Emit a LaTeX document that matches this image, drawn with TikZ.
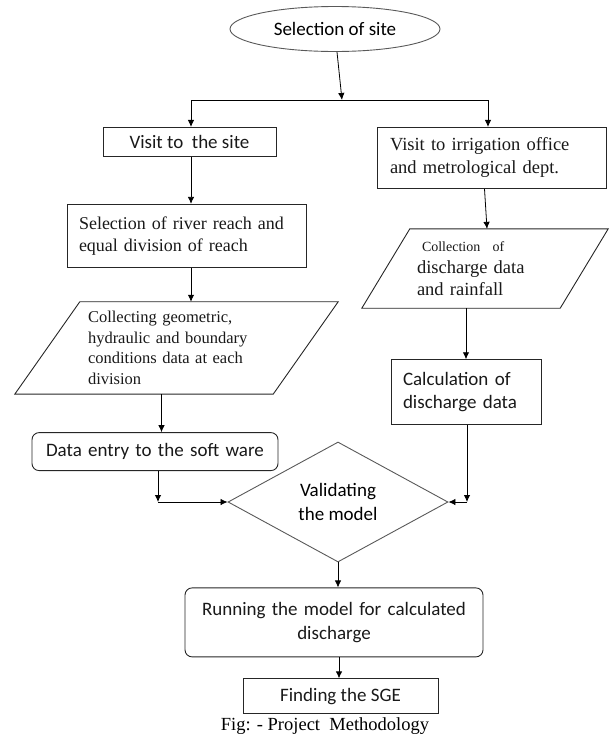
\documentclass[tikz,border=0pt]{standalone}
\usepackage{fontspec}
\setmainfont{Liberation Serif}
\setsansfont{Carlito}
\usetikzlibrary{shapes.geometric, arrows.meta, positioning, calc}
\tikzset{
    % Base Block Style
    block/.style={
        rectangle,
        draw=black!85,
        line width=0.9pt,
        inner sep=0pt,
        text=black!90
    },
    % Specific Role Styles
    stepSans/.style={block, font=\sffamily\fontsize{19}{23.5}\selectfont, align=center},
    stepSerif/.style={block, font=\rmfamily\fontsize{18.5}{23}\selectfont, align=left},
    stepRound/.style={stepSans, rounded corners=2.5mm},
    stepIO/.style={rectangle, inner sep=0pt, text=black!90, align=left, font=\rmfamily\fontsize{16.5}{20.5}\selectfont},
    ioLine/.style={draw=black!85, line width=0.9pt},
    startSite/.style={ellipse, draw=black!65, line width=0.9pt, inner sep=0pt, font=\sffamily\fontsize{19}{23}\selectfont},
    decision/.style={diamond, draw=black!65, line width=0.9pt, inner sep=0pt, align=center, font=\sffamily\fontsize{19}{23.5}\selectfont},
    % Arrow & Label Styles
    arrow/.style={-{Latex[length=7pt,width=6.5pt]}, line width=0.8pt, draw=black},
    figCaption/.style={font=\rmfamily\fontsize{18.5}{22}\selectfont, inner sep=0pt}
}

\begin{document}
\begin{tikzpicture}[x=1pt, y=-1pt, node distance=40pt]
    \useasboundingbox (0,0) rectangle (612,734);

    % --- START ---
    \node (site) [startSite, minimum width=210pt, minimum height=45pt] at (335,29) {Selection of site};

    % --- LEFT COLUMN (Field Work) ---

    % 1. Site visit
    \node (visit) [stepSans, minimum width=173pt, minimum height=29pt, below=75pt of site, xshift=-145.5pt] {Visit to\ \ the site};

    % 2. River reach
    \node (reach) [stepSerif, font=\rmfamily\fontsize{18}{22}\selectfont, text width=215pt, inner xsep=12pt, minimum height=63pt, below=47pt of visit, xshift=-3pt] {
        Selection of river reach and\\
        equal division of reach
    };

    % 3. Field data (parallelogram drawn below)
    \node (geo) [stepIO, text width=177pt, inner xsep=8pt, minimum height=92pt, below=34pt of reach, xshift=-10pt] {
        Collecting geometric,\\
        hydraulic and boundary\\
        conditions data at each\\
        division
    };

    % 4. Data entry
    \node (entry) [stepRound, align=left, text width=230pt, inner xsep=8pt, minimum height=38pt, below=38pt of geo, xshift=-21.5pt] {\hspace*{6pt}Data entry to the soft ware};

    % --- RIGHT COLUMN (Office Data) ---

    % 5. Office visit
    \node (office) [stepSerif, text width=203pt, inner xsep=13pt, minimum height=61pt, below=75pt of site, xshift=156.5pt] {
        Visit to irrigation office\\
        and metrological dept.
    };

    % 6. Discharge records (parallelogram drawn below)
    \node (collect) [stepIO, font=\rmfamily\fontsize{18.5}{22}\selectfont, text width=136pt, inner xsep=7pt, minimum height=79pt, below=40pt of office, xshift=-6.5pt] {
        {\fontsize{14}{17}\selectfont\hspace*{5pt}Collection\ \ of}\\
        discharge data\\
        and rainfall
    };

    % 7. Calculation
    \node (calc) [stepSans, align=left, text width=126pt, inner xsep=12pt, minimum height=65pt, below=51pt of collect, xshift=-19pt] {
        Calculation of\\
        discharge data
    };

    % --- BOTTOM (Model) ---
    \node (valid) [decision, minimum width=220pt, minimum height=120pt] at (338,502) {Validating\\the model};

    \node (run) [stepRound, text width=280pt, inner xsep=9pt, minimum height=69pt, below=25pt of valid, xshift=-4pt] {
        Running the model for calculated\\
        discharge
    };

    \node (sge) [stepSans, minimum width=195pt, minimum height=35pt, below=21pt of run, xshift=6.5pt] {Finding the SGE};

    \node (caption) [figCaption, below=3pt of sge, xshift=-15.5pt] {Fig: - Project\ \ Methodology};

    % --- Parallelograms ---
    \draw [ioLine] (geo.north west) -- ([xshift=65pt]geo.north east) -- (geo.south east) -- ([xshift=-65pt]geo.south west) -- cycle;
    \draw [ioLine] (collect.north west) -- ([xshift=48pt]collect.north east) -- (collect.south east) -- ([xshift=-48pt]collect.south west) -- cycle;

    % --- Arrows ---
    \coordinate (split) at ($(site.south)+(7,48)$);
    \draw [arrow] ([xshift=2pt]site.south) -- (split);
    \draw [arrow] (split) -| ([xshift=1.5pt]visit.north);
    \draw [arrow] (split) -| ([xshift=-3.5pt]office.north);

    \draw [arrow] ([xshift=1.5pt]visit.south) -- ([xshift=1.5pt]visit.south |- reach.north);
    \draw [arrow] ([xshift=1.5pt]visit.south |- reach.south) -- ([xshift=1.5pt]visit.south |- geo.north);
    \draw [arrow] ([xshift=-15pt]geo.south) -- ([xshift=-15pt]geo.south |- entry.north);

    \coordinate (joinL) at ([xshift=3pt]entry.south |- valid.west);
    \draw [arrow] ([xshift=3pt]entry.south) -- (joinL);
    \draw [arrow] (joinL) -- (valid.west);

    \draw [arrow] ([xshift=-7pt]office.south) -- ([xshift=2pt]collect.north);
    \draw [arrow] (calc.north |- collect.south) -- (calc.north);

    \coordinate (joinR) at ([xshift=1pt]calc.south |- valid.east);
    \draw [arrow] ([xshift=1pt]calc.south) -- (joinR);
    \draw [arrow] (joinR) -- (valid.east);

    \draw [arrow] (valid.south) -- (valid.south |- run.north);
    \draw [arrow] ([xshift=-1.5pt]run.south -| sge) -- ([xshift=-1.5pt]sge.north);

\end{tikzpicture}
\end{document}
